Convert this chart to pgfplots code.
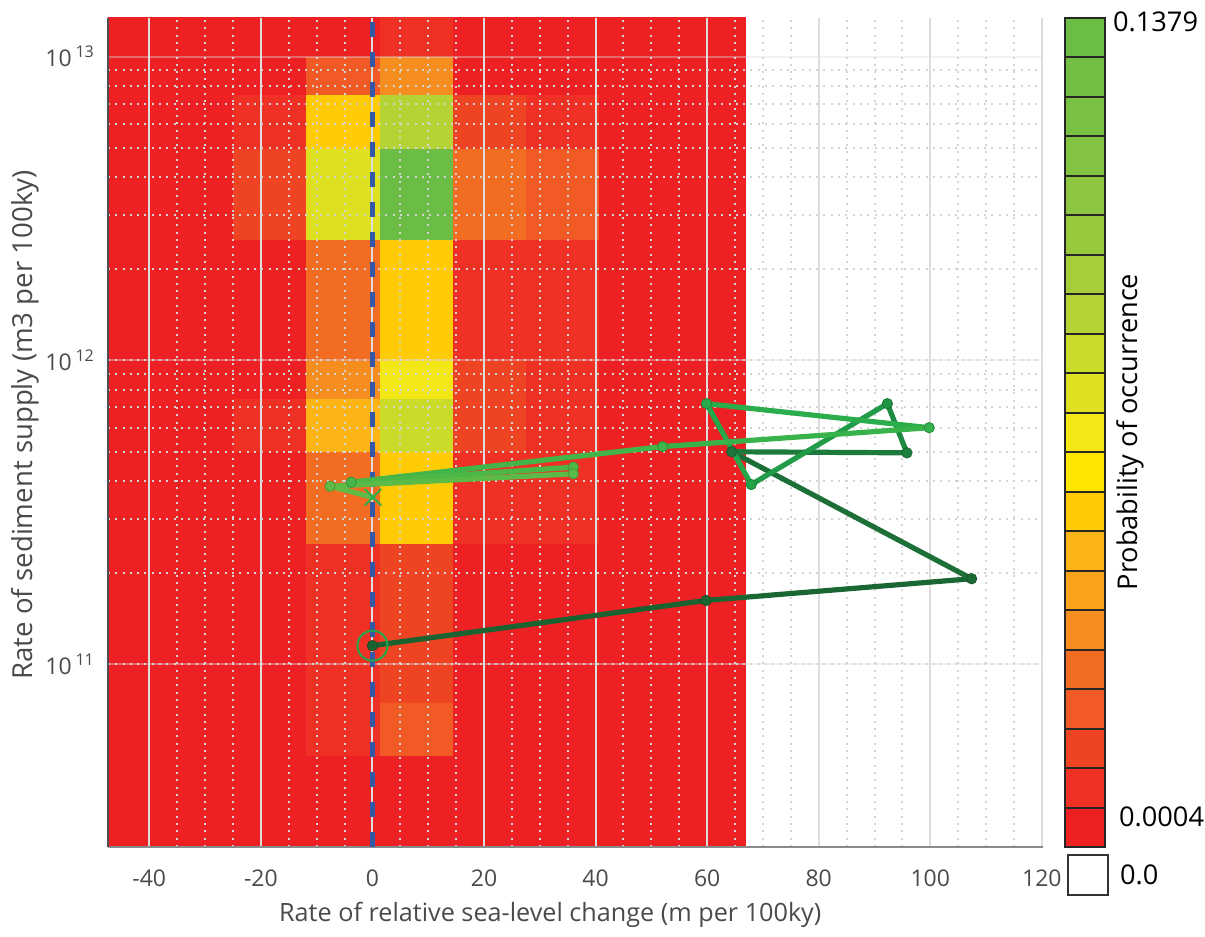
\documentclass[border=0pt]{standalone}
\usepackage{pgfplots}
\pgfplotsset{compat=1.18}
\usepackage{fontspec}
\setmainfont{Open Sans}
\definecolor{txt}{HTML}{4A4A4A}
\definecolor{gridmaj}{HTML}{DDDDDD}
\definecolor{gridmin}{HTML}{D4D4D4}
\definecolor{axisgray}{HTML}{8A8A8A}
\definecolor{axisdark}{HTML}{505050}
\definecolor{zeroblue}{HTML}{3457A6}
\definecolor{startc}{HTML}{22A84A}
\definecolor{endc}{HTML}{2DB04B}
\pgfplotsset{
 colormap={prob}{
  rgb255=(237,32,36) rgb255=(238,49,36) rgb255=(239,68,35) rgb255=(241,90,36)
  rgb255=(242,108,34) rgb255=(246,141,31) rgb255=(250,163,26) rgb255=(253,181,21)
  rgb255=(255,203,5) rgb255=(255,230,0) rgb255=(243,232,22) rgb255=(221,225,32)
  rgb255=(203,219,42) rgb255=(181,211,52) rgb255=(166,206,57) rgb255=(152,201,60)
  rgb255=(140,198,63) rgb255=(130,195,65) rgb255=(121,193,67) rgb255=(114,191,68)
  rgb255=(107,189,69)
 },
 colormap={traj}{rgb255=(26,98,48) rgb255=(27,101,50) rgb255=(27,106,53) rgb255=(28,116,58)
  rgb255=(29,128,62) rgb255=(31,148,68) rgb255=(34,162,73) rgb255=(38,170,75)
  rgb255=(50,176,75) rgb255=(62,180,73) rgb255=(70,182,72) rgb255=(80,184,71)
  rgb255=(88,186,71) rgb255=(95,187,70) rgb255=(100,188,70)}
}
\pgfplotstableread{
x y c
-51.05 2.5e10 0
-37.95 2.5e10 0
-24.85 2.5e10 0
-11.75 2.5e10 0
1.35 2.5e10 0
14.45 2.5e10 0
27.55 2.5e10 0
40.65 2.5e10 0
53.75 2.5e10 0
66.85 2.5e10 0
-51.05 5e10 0
-37.95 5e10 0
-24.85 5e10 0
-11.75 5e10 1
1.35 5e10 3
14.45 5e10 0
27.55 5e10 0
40.65 5e10 0
53.75 5e10 0
66.85 5e10 0
-51.05 7.5e10 0
-37.95 7.5e10 0
-24.85 7.5e10 0
-11.75 7.5e10 1
1.35 7.5e10 2
14.45 7.5e10 0
27.55 7.5e10 0
40.65 7.5e10 0
53.75 7.5e10 0
66.85 7.5e10 0
-51.05 1e11 0
-37.95 1e11 0
-24.85 1e11 0
-11.75 1e11 1
1.35 1e11 2
14.45 1e11 0
27.55 1e11 0
40.65 1e11 0
53.75 1e11 0
66.85 1e11 0
-51.05 2.5e11 0
-37.95 2.5e11 0
-24.85 2.5e11 0
-11.75 2.5e11 4
1.35 2.5e11 8
14.45 2.5e11 1
27.55 2.5e11 1
40.65 2.5e11 0
53.75 2.5e11 0
66.85 2.5e11 0
-51.05 5e11 0
-37.95 5e11 0
-24.85 5e11 1
-11.75 5e11 7
1.35 5e11 12
14.45 5e11 2
27.55 5e11 1
40.65 5e11 0
53.75 5e11 0
66.85 5e11 0
-51.05 7.5e11 0
-37.95 7.5e11 0
-24.85 7.5e11 0
-11.75 7.5e11 5
1.35 7.5e11 10
14.45 7.5e11 2
27.55 7.5e11 1
40.65 7.5e11 0
53.75 7.5e11 0
66.85 7.5e11 0
-51.05 1e12 0
-37.95 1e12 0
-24.85 1e12 0
-11.75 1e12 4
1.35 1e12 8
14.45 1e12 1
27.55 1e12 1
40.65 1e12 0
53.75 1e12 0
66.85 1e12 0
-51.05 2.5e12 0
-37.95 2.5e12 0
-24.85 2.5e12 2
-11.75 2.5e12 11
1.35 2.5e12 20
14.45 2.5e12 4
27.55 2.5e12 3
40.65 2.5e12 0
53.75 2.5e12 0
66.85 2.5e12 0
-51.05 5e12 0
-37.95 5e12 0
-24.85 5e12 1
-11.75 5e12 8
1.35 5e12 13
14.45 5e12 2
27.55 5e12 1
40.65 5e12 0
53.75 5e12 0
66.85 5e12 0
-51.05 7.5e12 0
-37.95 7.5e12 0
-24.85 7.5e12 0
-11.75 7.5e12 3
1.35 7.5e12 5
14.45 7.5e12 0
27.55 7.5e12 0
40.65 7.5e12 0
53.75 7.5e12 0
66.85 7.5e12 0
-51.05 1e13 0
-37.95 1e13 0
-24.85 1e13 0
-11.75 1e13 0
1.35 1e13 1
14.45 1e13 0
27.55 1e13 0
40.65 1e13 0
53.75 1e13 0
66.85 1e13 0
-51.05 1.5e13 0
-37.95 1.5e13 0
-24.85 1.5e13 0
-11.75 1.5e13 0
1.35 1.5e13 0
14.45 1.5e13 0
27.55 1.5e13 0
40.65 1.5e13 0
53.75 1.5e13 0
66.85 1.5e13 0
}\heat
\pgfplotstableread{
x y c
0 0 0
1 0 0
0 1 1
1 1 1
0 2 2
1 2 2
0 3 3
1 3 3
0 4 4
1 4 4
0 5 5
1 5 5
0 6 6
1 6 6
0 7 7
1 7 7
0 8 8
1 8 8
0 9 9
1 9 9
0 10 10
1 10 10
0 11 11
1 11 11
0 12 12
1 12 12
0 13 13
1 13 13
0 14 14
1 14 14
0 15 15
1 15 15
0 16 16
1 16 16
0 17 17
1 17 17
0 18 18
1 18 18
0 19 19
1 19 19
0 20 20
1 20 20
0 21 0
1 21 0
}\cbar
\begin{document}
\begin{tikzpicture}
\path[use as bounding box] (-54pt,-45pt) rectangle (548.5pt,423.5pt);
\begin{axis}[
  at={(0pt,0pt)}, anchor=south west,
  width=467.5pt, height=414.5pt, scale only axis,
  axis on top,
  xmin=-47.4, xmax=120.2,
  ymode=log, ymin=2.5e10, ymax=1.34e13,
  xtick={-40,-20,0,20,40,60,80,100,120},
  xticklabels={-40,-20,0,20,40,60,80,100,120},
  minor x tick num=3,
  ytick={1e11,1e12,1e13},
  yticklabels={10\,\textsuperscript{11},10\,\textsuperscript{12},10\,\textsuperscript{13}},
  major tick length=0pt, minor tick length=0pt,
  grid=both,
  major grid style={draw=gridmaj, line width=1pt},
  minor grid style={draw=gridmin, line width=1pt, dash pattern=on 1pt off 2.65pt},
  major y grid style={draw=gridmaj, line width=1pt, opacity=0.4},
  axis x line*=bottom, axis y line*=left,
  x axis line style={-, draw=axisgray, line width=1pt},
  y axis line style={-, draw=axisdark, line width=1pt},
  xticklabel style={font=\fontsize{11.5}{13}\selectfont, text=txt, anchor=center, yshift=-15.5pt},
  yticklabel style={font=\fontsize{11.5}{13}\selectfont, text=txt, anchor=east, xshift=-3pt},
  xlabel={Rate of relative sea-level change (m per 100ky)},
  ylabel={Rate of sediment supply (m3 per 100ky)},
  xlabel style={font=\fontsize{12.6}{14}\selectfont, text=txt, at={(axis description cs:0.473,-0.082)}, anchor=center},
  ylabel style={font=\fontsize{13.8}{15}\selectfont, text=txt, at={(axis description cs:-0.089,0.509)}, anchor=center},
]
\addplot[surf, shader=flat corner, colormap name=prob, colormap access=direct,
  point meta=explicit, mesh/cols=10, mesh/rows=13] table[x=x, y=y, meta=c] {\heat};
\end{axis}
\begin{axis}[
  at={(0pt,0pt)}, anchor=south west,
  width=467.5pt, height=414.5pt, scale only axis,
  xmin=-47.4, xmax=120.2,
  ymode=log, ymin=2.5e10, ymax=1.34e13,
  hide axis,
  colormap name=traj, point meta min=0, point meta max=14,
]
\addplot[zeroblue, line width=2.4pt, dash pattern=on 7.5pt off 7.5pt] coordinates {(0,2.5e10) (0,1.34e13)};
\addplot[mesh, shader=flat, line width=2.6pt, line join=round, line cap=round,
  point meta=\coordindex]
  coordinates {(0,1.15e11) (59.8,1.62e11) (107.4,1.91e11) (64.4,5.0e11) (95.8,4.96e11)
   (92.3,7.2e11) (67.9,3.9e11) (59.9,7.2e11) (99.8,6.0e11) (52.0,5.2e11)
   (-3.8,3.97e11) (36.0,4.45e11) (36.0,4.23e11) (-7.6,3.85e11) (0.1,3.54e11)};
\addplot[scatter, only marks, mark=*, mark size=2.6pt, point meta=\coordindex]
  coordinates {(0,1.15e11) (59.8,1.62e11) (107.4,1.91e11) (64.4,5.0e11) (95.8,4.96e11)
   (92.3,7.2e11) (67.9,3.9e11) (59.9,7.2e11) (99.8,6.0e11) (52.0,5.2e11)
   (-3.8,3.97e11) (36.0,4.45e11) (36.0,4.23e11) (-7.6,3.85e11)};
\addplot[only marks, mark=o, mark size=7.5pt, draw=startc, line width=1pt] coordinates {(0,1.15e11)};
\addplot[only marks, mark=x, mark size=5.8pt, draw=endc, line width=1pt] coordinates {(0.1,3.54e11)};
\end{axis}
\begin{axis}[
  name=cb, at={(478.5pt,0pt)}, anchor=south west,
  width=20pt, height=414.5pt, scale only axis,
  xmin=0, xmax=1, ymin=0, ymax=21,
  xtick=\empty, ytick={0,1,...,21}, yticklabels={},
  major tick length=0pt,
  ymajorgrids, major grid style={draw=black!85, line width=1pt},
  axis on top, axis line style={draw=black!85, line width=1pt},
]
\addplot[surf, shader=flat corner, colormap name=prob, colormap access=direct,
  point meta=explicit, mesh/cols=2, mesh/rows=22] table[x=x, y=y, meta=c] {\cbar};
\end{axis}
\node[anchor=west, font=\fontsize{13.6}{16}\selectfont] at ([xshift=0.5pt,yshift=-2pt]cb.north east) {0.1379};
\node[anchor=west, font=\fontsize{13.6}{16}\selectfont] at ([xshift=3.5pt,yshift=15pt]cb.south east) {0.0004};
\node[anchor=west, font=\fontsize{13.6}{16}\selectfont] at (502.5pt,-14pt) {0.0};
\draw[black!80, line width=1pt] (480.2pt,-4pt) rectangle (500.2pt,-24pt);
\node[rotate=90, font=\fontsize{13.6}{15}\selectfont] at (511pt,207.5pt) {Probability of occurrence};
\end{tikzpicture}
\end{document}
